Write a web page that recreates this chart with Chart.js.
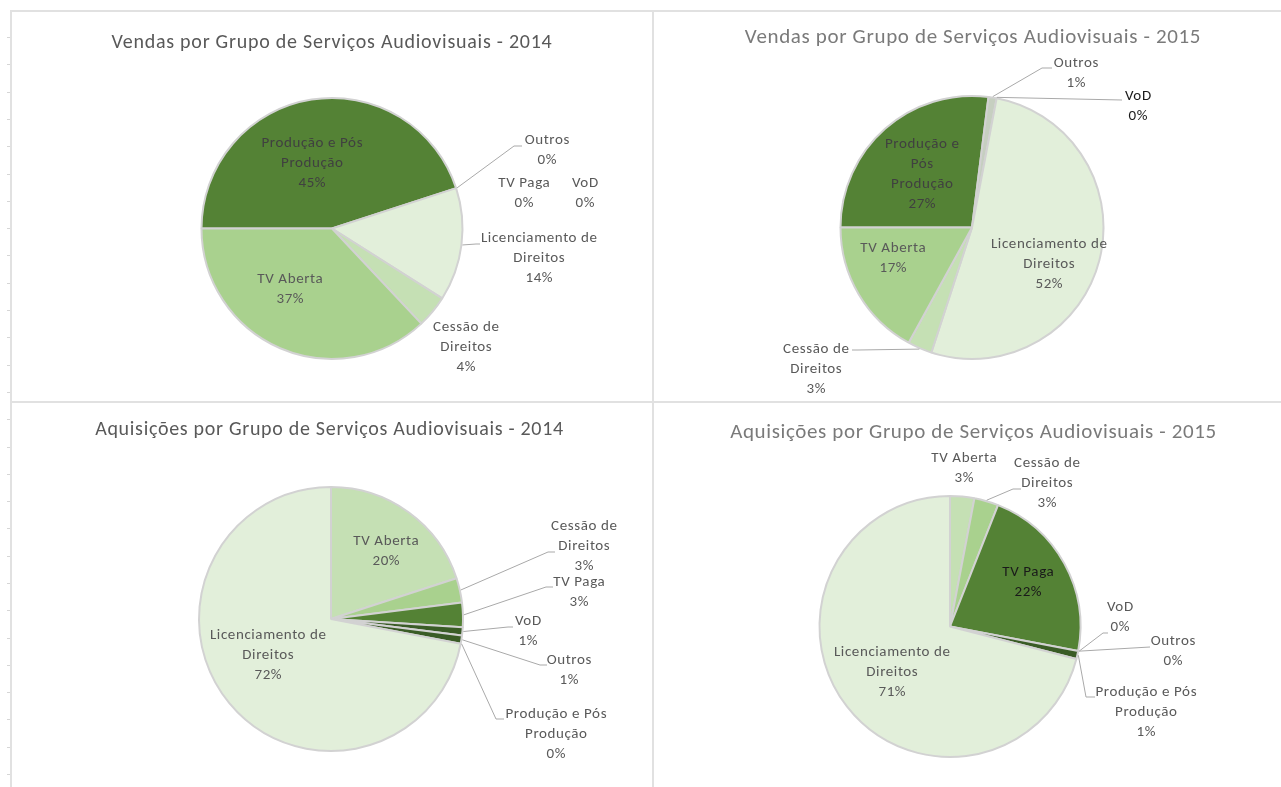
<!DOCTYPE html>
<html>
<head>
<meta charset="utf-8">
<script src="https://cdn.jsdelivr.net/npm/chart.js@4.4.1/dist/chart.umd.min.js"></script>
<style>
html,body{margin:0;padding:0;background:#fff;}
body{width:1281px;height:787px;position:relative;overflow:hidden;}
canvas{position:absolute;}
.ln{position:absolute;background:#e1e1e1;}
.tk{position:absolute;background:#d6d6d6;width:3px;height:1px;left:7px;}
</style>
</head>
<body>
<div class="ln" style="left:10px;top:10px;width:2px;height:777px;"></div>
<div class="ln" style="left:10px;top:10px;width:1271px;height:2px;"></div>
<div class="ln" style="left:652px;top:10px;width:2px;height:777px;"></div>
<div class="ln" style="left:10px;top:401px;width:1271px;height:2px;"></div>
<canvas id="c1"></canvas>
<canvas id="c2"></canvas>
<canvas id="c3"></canvas>
<canvas id="c4"></canvas>
<script>
// ---------------- DATA ----------------
const titleV14 = 'Vendas por Grupo de Serviços Audiovisuais - 2014';
const catsV14 = ['Produção e Pós Produção', 'Outros', 'TV Paga', 'VoD', 'Licenciamento de Direitos', 'Cessão de Direitos', 'TV Aberta'];
const valsV14 = [45, 0, 0, 0, 14, 4, 37];

const titleV15 = 'Vendas por Grupo de Serviços Audiovisuais - 2015';
const catsV15 = ['Produção e Pós Produção', 'Outros', 'VoD', 'Licenciamento de Direitos', 'Cessão de Direitos', 'TV Aberta'];
const valsV15 = [27, 1, 0, 52, 3, 17];

const titleA14 = 'Aquisições por Grupo de Serviços Audiovisuais - 2014';
const catsA14 = ['TV Aberta', 'Cessão de Direitos', 'TV Paga', 'VoD', 'Outros', 'Produção e Pós Produção', 'Licenciamento de Direitos'];
const valsA14 = [20, 3, 3, 1, 1, 0, 72];

const titleA15 = 'Aquisições por Grupo de Serviços Audiovisuais - 2015';
const catsA15 = ['TV Aberta', 'Cessão de Direitos', 'TV Paga', 'VoD', 'Outros', 'Produção e Pós Produção', 'Licenciamento de Direitos'];
const valsA15 = [3, 3, 22, 0, 0, 1, 71];

// ---------------- STYLE / LAYOUT ----------------
const FONT_FAMILY = 'Calibri, Carlito, Lato, sans-serif';
const LABEL_FONT = '15px ' + FONT_FAMILY;
const LABEL_SPACING = '0.6px';
const LABEL_LH = 20;
const LABEL_COLOR = '#595959';
const LEADER_COLOR = '#a9a9a9';

const G_DARK = '#548235', G_DARKER = '#3a5c26', G_MID = '#a9d18e', G_LIGHT = '#c5e0b4', G_PALE = '#e2efda';

// Ticks on the left margin (spreadsheet row marks)
for (let y = 37; y < 787; y += 27.3) {
  const d = document.createElement('div'); d.className = 'tk'; d.style.top = Math.round(y) + 'px'; document.body.appendChild(d);
}

function titlePlugin(t) {
  return {
    id: 'panelTitle',
    afterDraw(chart) {
      const ctx = chart.ctx;
      ctx.save();
      ctx.font = t.size + 'px ' + FONT_FAMILY;
      if ('letterSpacing' in ctx) ctx.letterSpacing = t.spacing;
      ctx.fillStyle = t.color;
      ctx.textAlign = 'center';
      ctx.textBaseline = 'alphabetic';
      ctx.fillText(t.text, t.x, t.y);
      ctx.restore();
    }
  };
}

function labelPlugin(layout) {
  return {
    id: 'pieLabels',
    afterDatasetsDraw(chart) {
      const ctx = chart.ctx;
      const meta = chart.getDatasetMeta(0);
      const data = chart.data.datasets[0].data;
      const total = data.reduce((a, b) => a + b, 0);
      ctx.save();
      ctx.font = LABEL_FONT;
      if ('letterSpacing' in ctx) ctx.letterSpacing = LABEL_SPACING;
      ctx.textAlign = 'center';
      ctx.textBaseline = 'middle';
      meta.data.forEach((arc, i) => {
        const L = layout[i];
        if (!L) return;
        const p = arc.getProps(['x', 'y', 'startAngle', 'endAngle', 'outerRadius'], true);
        const lx = p.x + L.dx, ly = p.y + L.dy;
        const words = chart.data.labels[i].split(' ');
        const wrap = L.wrap || [words.length];
        const lines = [];
        let k = 0;
        wrap.forEach(n => { lines.push(words.slice(k, k + n).join(' ')); k += n; });
        lines.push(Math.round(data[i] / total * 100) + '%');
        if (L.lead) {
          const mid = (p.startAngle + p.endAngle) / 2;
          const r = p.outerRadius + 1;
          const sx = p.x + Math.cos(mid) * r, sy = p.y + Math.sin(mid) * r;
          const ex = lx + L.lead[0], ey = ly + L.lead[1];
          const el = (L.elbow == null ? 8 : L.elbow) * (L.lead[0] < 0 ? -1 : 1);
          ctx.beginPath();
          ctx.moveTo(sx, sy);
          ctx.lineTo(ex + el, ey);
          ctx.lineTo(ex, ey);
          ctx.strokeStyle = LEADER_COLOR;
          ctx.lineWidth = 1;
          ctx.stroke();
        }
        ctx.fillStyle = L.color || LABEL_COLOR;
        const y0 = ly - (lines.length - 1) * LABEL_LH / 2;
        lines.forEach((t, j) => ctx.fillText(t, lx + 0.3, y0 + j * LABEL_LH));
      });
      ctx.restore();
    }
  };
}

function makeChart(id, rect, pie, cats, vals, colors, rotation, title, layout) {
  const cv = document.getElementById(id);
  cv.width = rect.w; cv.height = rect.h;
  cv.style.left = rect.x + 'px'; cv.style.top = rect.y + 'px';
  cv.style.width = rect.w + 'px'; cv.style.height = rect.h + 'px';
  const pad = {
    left: pie.cx - pie.r - rect.x,
    right: rect.x + rect.w - (pie.cx + pie.r),
    top: pie.cy - pie.r - rect.y,
    bottom: rect.y + rect.h - (pie.cy + pie.r)
  };
  title.x -= rect.x; title.y -= rect.y;
  return new Chart(cv, {
    type: 'pie',
    data: {
      labels: cats,
      datasets: [{ data: vals, backgroundColor: colors, borderColor: '#d2d2d2', borderWidth: 2 }]
    },
    options: {
      responsive: false,
      animation: false,
      devicePixelRatio: 1,
      rotation: rotation,
      layout: { padding: pad },
      plugins: { legend: { display: false }, tooltip: { enabled: false } }
    },
    plugins: [labelPlugin(layout), titlePlugin(title)]
  });
}

// Chart 1: Vendas 2014
makeChart('c1', { x: 12, y: 12, w: 640, h: 389 }, { cx: 332, cy: 228.5, r: 131.5 },
  catsV14, valsV14,
  [G_DARK, G_LIGHT, G_LIGHT, G_LIGHT, G_PALE, G_LIGHT, G_MID], 270,
  { text: titleV14, x: 332, y: 48, size: 20, spacing: '0.75px', color: '#595959' },
  [
    { dx: -20, dy: -65.5, wrap: [3, 1], color: '#404040' },
    { dx: 215, dy: -78.5, lead: [-25, -4], elbow: 8 },
    { dx: 192, dy: -35.5 },
    { dx: 253, dy: -35.5 },
    { dx: 207, dy: 29.5, wrap: [2, 1], lead: [-59, -14], elbow: 4 },
    { dx: 134, dy: 118.5, wrap: [2, 1] },
    { dx: -42, dy: 60.5 }
  ]);

// Chart 2: Vendas 2015
makeChart('c2', { x: 654, y: 12, w: 627, h: 389 }, { cx: 972, cy: 227.5, r: 132.5 },
  catsV15, valsV15,
  [G_DARK, '#c6cfc0', G_LIGHT, G_PALE, G_LIGHT, G_MID], 270,
  { text: titleV15, x: 973, y: 43, size: 21, spacing: '0.65px', color: '#7a7a7a' },
  [
    { dx: -50, dy: -53.5, wrap: [2, 1, 1], color: '#404040' },
    { dx: 104, dy: -154.5, lead: [-24, -5], elbow: 10 },
    { dx: 166, dy: -121.5, lead: [-16, -6], elbow: 0, color: '#1a1a1a' },
    { dx: 77, dy: 36.5, wrap: [2, 1] },
    { dx: -156, dy: 141.5, wrap: [2, 1], lead: [36, -19], elbow: 6 },
    { dx: -79, dy: 30.5 }
  ]);

// Chart 3: Aquisições 2014
makeChart('c3', { x: 12, y: 403, w: 640, h: 384 }, { cx: 331, cy: 619, r: 133 },
  catsA14, valsA14,
  [G_LIGHT, G_MID, G_DARK, G_DARKER, G_DARKER, G_DARKER, G_PALE], 0,
  { text: titleA14, x: 329.5, y: 435, size: 20, spacing: '0.7px', color: '#595959' },
  [
    { dx: 55, dy: -68 },
    { dx: 253, dy: -73, wrap: [2, 1], lead: [-29, 6], elbow: 7 },
    { dx: 248, dy: -27, lead: [-26, -5], elbow: 7 },
    { dx: 197, dy: 12, lead: [-15, -4], elbow: 5 },
    { dx: 238, dy: 51, lead: [-22, -5], elbow: 7 },
    { dx: 225, dy: 115, wrap: [3, 1], lead: [-52, -15], elbow: 8 },
    { dx: -63, dy: 36, wrap: [2, 1] }
  ]);

// Chart 4: Aquisições 2015
makeChart('c4', { x: 654, y: 403, w: 627, h: 384 }, { cx: 950, cy: 626.5, r: 131.5 },
  catsA15, valsA15,
  [G_LIGHT, G_MID, G_DARK, G_DARKER, G_DARKER, G_DARKER, G_PALE], 0,
  { text: titleA15, x: 973.5, y: 438, size: 21, spacing: '0.63px', color: '#7a7a7a' },
  [
    { dx: 14, dy: -158.5 },
    { dx: 97, dy: -143.5, wrap: [2, 1], lead: [-26, 6], elbow: 8 },
    { dx: 78, dy: -44.5, color: '#1a1a1a' },
    { dx: 170, dy: -9.5, lead: [-12, 16], elbow: 5 },
    { dx: 223, dy: 24.5, lead: [-23, -4], elbow: 0 },
    { dx: 196, dy: 85.5, wrap: [3, 1], lead: [-51, -15], elbow: 9 },
    { dx: -58, dy: 45.5, wrap: [2, 1] }
  ]);
</script>
</body>
</html>
